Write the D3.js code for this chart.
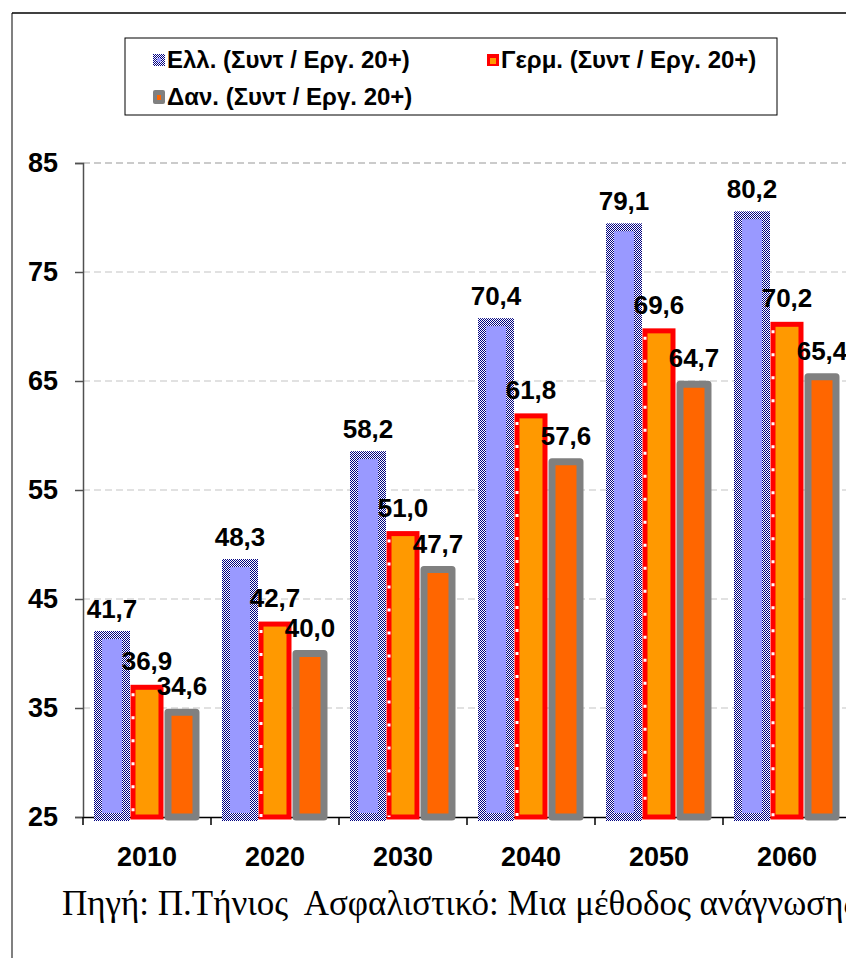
<!DOCTYPE html>
<html><head><meta charset="utf-8">
<script src="https://cdn.jsdelivr.net/npm/d3@7"></script>
<style>html,body{margin:0;padding:0;background:#fff;}svg{display:block;}</style>
</head><body>
<script>
const categories = ['2010','2020','2030','2040','2050','2060'];
const seriesNames = ['Ελλ. (Συντ / Εργ. 20+)','Γερμ. (Συντ / Εργ. 20+)','Δαν. (Συντ / Εργ. 20+)'];
const ellValues = [41.7, 48.3, 58.2, 70.4, 79.1, 80.2];
const gerValues = [36.9, 42.7, 51.0, 61.8, 69.6, 70.2];
const danValues = [34.6, 40.0, 47.7, 57.6, 64.7, 65.4];
const yTicks = [25, 35, 45, 55, 65, 75, 85];
const sourceText = 'Πηγή: Π.Τήνιος  Ασφαλιστικό: Μια μέθοδος ανάγνωσης';

const W = 846, H = 958;
const svg = d3.select('body').append('svg').attr('width', W).attr('height', H)
  .style('font-family', 'Arial, "Liberation Sans", sans-serif');

const defs = svg.append('defs');
const pat = defs.append('pattern').attr('id','checker').attr('width',2).attr('height',2)
  .attr('patternUnits','userSpaceOnUse');
pat.append('rect').attr('width',2).attr('height',2).attr('fill','#fff');
pat.append('rect').attr('width',1).attr('height',1).attr('fill','#000080');
pat.append('rect').attr('x',1).attr('y',1).attr('width',1).attr('height',1).attr('fill','#000080');

// outer frame
svg.append('line').attr('x1',12).attr('x2',12).attr('y1',13).attr('y2',H).attr('stroke','#808080').attr('stroke-width',2);
svg.append('line').attr('x1',12).attr('x2',W).attr('y1',13).attr('y2',13).attr('stroke','#000').attr('stroke-width',1.5);

const x0 = d3.scaleBand().domain(categories).range([83, 83 + 128*6]).padding(0);
const x1 = d3.scaleBand().domain([0,1,2]).range([0, x0.bandwidth()]).paddingInner(0.2).paddingOuter(0.4286);
const y = d3.scaleLinear().domain([25, 85]).range([817, 163]);

// gridlines
svg.append('g').selectAll('line').data(yTicks.filter(t => t > 25)).join('line')
  .attr('x1', 83).attr('x2', W).attr('y1', d => y(d)).attr('y2', d => y(d))
  .attr('stroke', d => d === 85 ? '#bbbbbb' : '#d8d8d8').attr('stroke-width', 1.5)
  .attr('stroke-dasharray', '7,4');

// y axis
const yAxis = d3.axisLeft(y).tickValues(yTicks).tickSize(8).tickPadding(17);
const gy = svg.append('g').attr('transform','translate(83,0)').call(yAxis);
gy.select('.domain').attr('stroke','#505050').attr('stroke-width',1.5);
gy.selectAll('.tick line').attr('stroke','#505050').attr('stroke-width',1.5);
gy.selectAll('.tick text').attr('font-size', 27).attr('font-weight','bold').attr('fill','#000')
  .attr('font-family','Arial, "Liberation Sans", sans-serif');

// x axis
const xAxis = d3.axisBottom(x0).tickSize(0).tickPadding(30);
const gx = svg.append('g').attr('transform','translate(0,817)').call(xAxis);
gx.select('.domain').attr('stroke','#000').attr('stroke-width',1.5);
gx.selectAll('.tick text').attr('font-size', 27).attr('font-weight','bold').attr('fill','#000')
  .attr('font-family','Arial, "Liberation Sans", sans-serif');
svg.append('g').selectAll('line').data(d3.range(7)).join('line')
  .attr('x1', i => 83 + x0.step()*i).attr('x2', i => 83 + x0.step()*i)
  .attr('y1', 817).attr('y2', 825).attr('stroke','#000').attr('stroke-width',1.5);

const fmt = v => d3.format('.1f')(v).replace('.', ',');
const series = [ellValues, gerValues, danValues];
const styles = [
  {fill:'#9999ff', stroke:'url(#checker)', sw:8, join:'miter'},
  {fill:'#ff9900', stroke:'#ff0000', sw:5, join:'miter'},
  {fill:'#ff6600', stroke:'#808080', sw:7, join:'round'}
];

const barsG = svg.append('g');
series.forEach((vals, k) => {
  const st = styles[k];
  const g = barsG.append('g');
  g.selectAll('rect').data(vals).join('rect')
    .attr('x', (d,i) => x0(categories[i]) + x1(k))
    .attr('width', x1.bandwidth())
    .attr('y', d => y(d))
    .attr('height', d => y(25) - y(d))
    .attr('fill', st.fill).attr('stroke', st.stroke).attr('stroke-width', st.sw)
    .attr('stroke-linejoin', st.join);
  if (k === 1) {
    g.selectAll('line.wd').data(vals).join('line')
      .attr('x1', (d,i) => x0(categories[i]) + x1(k))
      .attr('x2', (d,i) => x0(categories[i]) + x1(k))
      .attr('y1', d => y(d) + 6).attr('y2', y(25))
      .attr('stroke', '#fff').attr('stroke-width', 3).attr('stroke-dasharray','3,20');
  }
});

// labels
series.forEach((vals, k) => {
  svg.append('g').selectAll('text').data(vals).join('text')
    .attr('x', (d,i) => x0(categories[i]) + x1(k) + x1.bandwidth()/2)
    .attr('y', d => y(d) - 17)
    .attr('text-anchor','middle').attr('font-size', 26).attr('font-weight','bold').attr('fill','#000')
    .text(d => fmt(d));
});

// legend
const lg = svg.append('g');
lg.append('rect').attr('x',125).attr('y',38).attr('width',652).attr('height',77)
  .attr('fill','#fff').attr('stroke','#000').attr('stroke-width',1);
const legendPos = [{x:153, y:60},{x:487, y:60},{x:153, y:97}];
seriesNames.forEach((name, k) => {
  const p = legendPos[k];
  const g = lg.append('g').attr('transform', `translate(${p.x},${p.y})`);
  if (k === 0) {
    g.append('rect').attr('x',0).attr('y',-6).attr('width',12).attr('height',12).attr('fill','url(#checker)');
    g.append('rect').attr('x',4).attr('y',-2).attr('width',4).attr('height',4).attr('fill','#9999ff');
  } else if (k === 1) {
    g.append('rect').attr('x',0).attr('y',-6).attr('width',12).attr('height',12).attr('fill','#ff0000');
    g.append('rect').attr('x',3).attr('y',-2).attr('width',6).attr('height',6).attr('fill','#ff9900');
  } else {
    g.append('rect').attr('x',0).attr('y',-7).attr('width',12).attr('height',14).attr('rx',2).attr('fill','#808080');
    g.append('rect').attr('x',4).attr('y',-2).attr('width',4).attr('height',5).attr('fill','#ff6600');
  }
  g.append('text').attr('x',14).attr('y',0).attr('dy','0.35em')
    .attr('font-size',24).attr('font-weight','bold').attr('fill','#000').text(name);
});

// source
svg.append('text').attr('x',62).attr('y',915).style('white-space','pre')
  .attr('font-family','"Liberation Serif", "Times New Roman", serif').attr('font-size',35)
  .attr('fill','#000').text(sourceText);
</script>
</body></html>
